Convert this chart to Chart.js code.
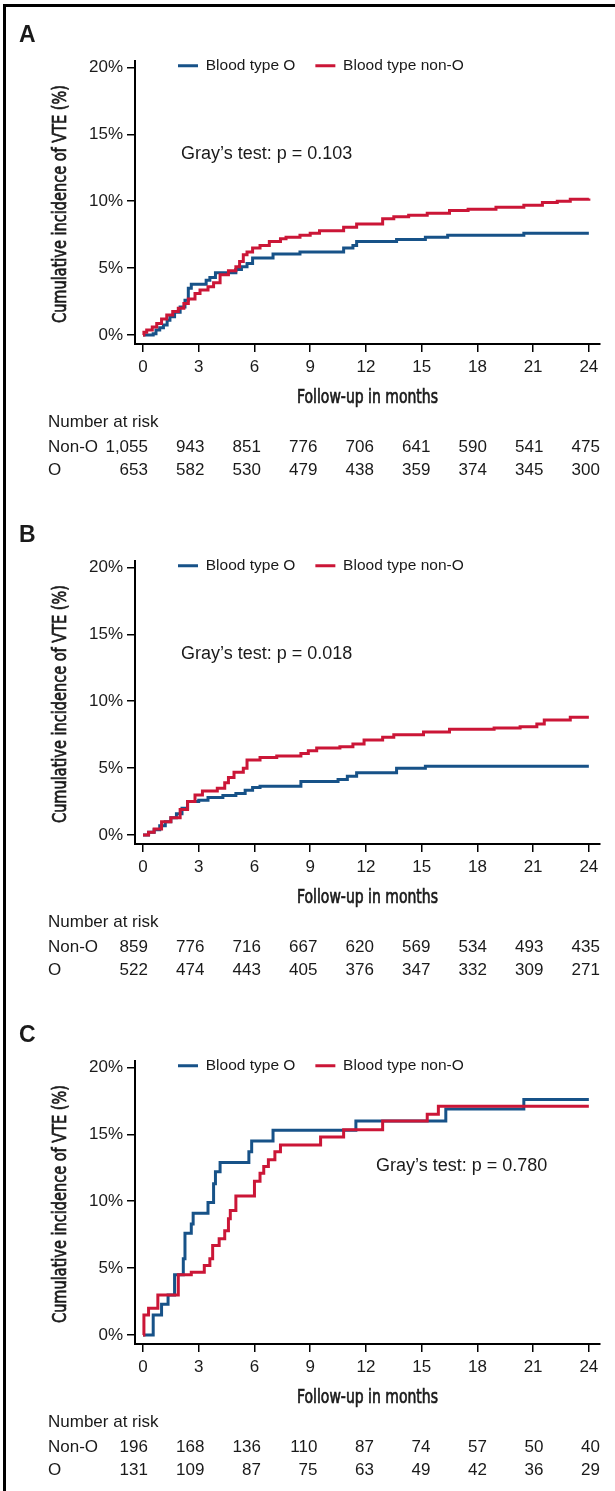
<!DOCTYPE html>
<html><head><meta charset="utf-8">
<script src="https://cdn.jsdelivr.net/npm/chart.js@4.4.1/dist/chart.umd.min.js"></script>
<style>
html,body{margin:0;padding:0;background:#fff;overflow:hidden;width:615px;height:1491px;}
#frame{position:absolute;left:3px;top:4px;width:700px;height:1600px;border:3px solid #000;box-sizing:border-box;}
.panel{position:absolute;left:0;width:615px;}
canvas{display:block;}
</style></head><body>
<div id="frame"></div>
<div class="panel" style="top:0px;height:500px"><canvas id="cA" width="615" height="500"></canvas></div>
<div class="panel" style="top:500px;height:500px"><canvas id="cB" width="615" height="500"></canvas></div>
<div class="panel" style="top:1000px;height:491px"><canvas id="cC" width="615" height="491"></canvas></div>
<script>
// ---- data ----
const monthTicks = [0, 3, 6, 9, 12, 15, 18, 21, 24];
const pctTicks = [0, 5, 10, 15, 20];
const seriesLabels = ['Blood type O', 'Blood type non-O'];
const riskRowLabels = ['Non-O', 'O'];

// Panel A
const aOTime = [0, 0.55, 0.7, 0.9, 1.1, 1.3, 1.45, 1.7, 2.0, 2.26, 2.44, 2.6, 3.4, 3.6, 3.9, 5.0, 5.3, 5.6, 5.9, 7.0, 8.45, 10.8, 11.3, 11.5, 13.65, 15.2, 16.4, 20.5, 24];
const aOPct  = [0, 0.1, 0.37, 0.55, 0.75, 1.1, 1.37, 1.7, 2.1, 2.6, 3.5, 3.8, 4.1, 4.3, 4.65, 4.9, 5.1, 5.35, 5.75, 6.05, 6.2, 6.5, 6.7, 7.0, 7.15, 7.3, 7.45, 7.6, 7.6];
const aNTime = [0, 0.05, 0.2, 0.5, 0.74, 1.0, 1.28, 1.6, 1.9, 2.2, 2.44, 2.8, 3.07, 3.5, 3.8, 4.15, 4.6, 5.0, 5.2, 5.4, 5.6, 5.9, 6.3, 6.8, 7.4, 7.7, 8.45, 9.0, 9.5, 10.8, 11.5, 12.9, 13.5, 14.3, 15.3, 16.5, 17.5, 19.0, 20.5, 21.5, 22.3, 23.0, 24];
const aNPct  = [0, 0.2, 0.37, 0.6, 0.87, 1.2, 1.5, 1.75, 2.0, 2.35, 2.7, 3.1, 3.36, 3.6, 3.9, 4.5, 4.8, 5.1, 5.5, 6.0, 6.2, 6.5, 6.7, 7.0, 7.2, 7.3, 7.45, 7.6, 7.8, 8.05, 8.3, 8.7, 8.85, 8.95, 9.1, 9.3, 9.4, 9.55, 9.7, 9.9, 10.0, 10.15, 10.2];
const aRiskNonO = [1055, 943, 851, 776, 706, 641, 590, 541, 475];
const aRiskO    = [653, 582, 530, 479, 438, 359, 374, 345, 300];
const aGray = 'Gray\u2019s test: p = 0.103';

// Panel B
const bOTime = [0, 0.3, 0.6, 0.9, 1.2, 1.5, 1.8, 2.1, 2.4, 3.0, 3.5, 4.3, 5.0, 5.5, 5.9, 6.3, 8.5, 10.5, 11.0, 11.5, 13.65, 15.2, 24];
const bOPct  = [0, 0.2, 0.4, 0.7, 1.0, 1.3, 1.6, 2.0, 2.5, 2.6, 2.8, 2.95, 3.1, 3.35, 3.55, 3.65, 4.0, 4.15, 4.4, 4.65, 5.0, 5.15, 5.15];
const bNTime = [0, 0.3, 0.6, 1.0, 1.5, 2.0, 2.4, 2.8, 3.2, 4.0, 4.4, 4.6, 4.9, 5.4, 5.6, 6.3, 7.2, 8.5, 8.9, 9.35, 10.6, 11.3, 11.9, 12.9, 13.5, 15.1, 16.5, 18.9, 20.3, 21.2, 21.6, 23.0, 24];
const bNPct  = [0, 0.2, 0.45, 1.0, 1.3, 1.9, 2.5, 3.0, 3.3, 3.5, 3.9, 4.3, 4.7, 5.0, 5.6, 5.8, 5.9, 6.1, 6.3, 6.5, 6.6, 6.8, 7.1, 7.3, 7.5, 7.7, 7.9, 8.0, 8.1, 8.3, 8.6, 8.8, 8.8];
const bRiskNonO = [859, 776, 716, 667, 620, 569, 534, 493, 435];
const bRiskO    = [522, 474, 443, 405, 376, 347, 332, 309, 271];
const bGray = 'Gray\u2019s test: p = 0.018';

// Panel C
const cOTime = [0, 0.55, 1.0, 1.35, 1.7, 2.17, 2.26, 2.6, 2.7, 3.5, 3.8, 3.9, 4.15, 5.7, 5.85, 7.0, 11.46, 16.3, 20.5, 24];
const cOPct  = [0, 1.5, 2.3, 3.0, 4.5, 5.7, 7.6, 8.3, 9.1, 9.9, 11.3, 12.2, 12.9, 13.7, 14.5, 15.3, 16.0, 16.9, 17.6, 17.6];
const cNTime = [0, 0.05, 0.3, 0.8, 1.9, 2.6, 3.3, 3.6, 3.75, 4.1, 4.4, 4.6, 4.7, 5.0, 6.0, 6.3, 6.5, 6.75, 7.1, 7.4, 9.56, 10.8, 12.9, 15.3, 15.9, 24];
const cNPct  = [0, 1.5, 2.0, 3.0, 4.5, 4.7, 5.2, 5.7, 6.7, 7.2, 7.8, 8.7, 9.3, 10.4, 11.5, 12.1, 12.6, 13.1, 13.7, 14.2, 14.8, 15.35, 16.0, 16.5, 17.1, 17.1];
const cRiskNonO = [196, 168, 136, 110, 87, 74, 57, 50, 40];
const cRiskO    = [131, 109, 87, 75, 63, 49, 42, 36, 29];
const cGray = 'Gray\u2019s test: p = 0.780';

// ---- styling ----
const BLUE = '#175288';
const RED = '#cb1637';
const TXT = '#1a1a1a';
const FONT = '"Liberation Sans", Arial, Helvetica, sans-serif';
const NARROW = '"Liberation Sans Narrow", "DejaVu Sans Condensed", "Liberation Sans", sans-serif';

function condensed(ctx, text, cx, cy, targetW, rotate) {
  ctx.save();
  ctx.translate(cx, cy);
  if (rotate) ctx.rotate(-Math.PI / 2);
  const w = ctx.measureText(text).width;
  ctx.scale(targetW / w, 1);
  ctx.textAlign = 'center';
  ctx.textBaseline = 'middle';
  ctx.lineWidth = 0.7;
  ctx.strokeStyle = TXT;
  ctx.fillText(text, 0, 0);
  ctx.strokeText(text, 0, 0);
  ctx.restore();
}

const textPlugin = {
  id: 'panelText',
  afterDraw(chart, args, o) {
    const ctx = chart.ctx;
    const xs = chart.scales.x;
    ctx.save();
    ctx.fillStyle = TXT;
    ctx.textBaseline = 'middle';
    ctx.textAlign = 'left';
    ctx.font = 'bold 23px ' + FONT;
    ctx.fillText(o.letter, 19, 36);
    ctx.font = '18px ' + FONT;
    ctx.fillText(o.gray, o.grayX, o.grayY);
    // axis titles
    ctx.font = '20px ' + NARROW;
    condensed(ctx, 'Cumulative incidence of VTE (%)', 61, 204, 238, true);
    condensed(ctx, 'Follow-up in months', (chart.chartArea.left + chart.chartArea.right) / 2, 398, 141, false);
    // risk table
    ctx.font = '17px ' + FONT;
    ctx.textAlign = 'left';
    ctx.fillText('Number at risk', 48, 422);
    ctx.fillText(riskRowLabels[0], 48, 447);
    ctx.fillText(riskRowLabels[1], 48, 470);
    ctx.textAlign = 'right';
    monthTicks.forEach((m, i) => {
      const px = xs.getPixelForValue(m) + 5 + m * 0.25;
      ctx.fillText(o.riskNon[i].toLocaleString('en-US'), px, 447);
      ctx.fillText(o.riskO[i].toLocaleString('en-US'), px, 470);
    });
    ctx.restore();
  }
};

const legendPos = {
  id: 'legendPos',
  afterLayout(chart) {
    const lg = chart.legend;
    if (!lg) return;
    const h = lg.height;
    lg.left = 158; lg.right = 615;
    lg.top = 38; lg.bottom = 38 + h;
  }
};

function toPoints(t, p) { return t.map((v, i) => ({ x: v, y: p[i] })); }

function makePanel(id, cfg) {
  new Chart(document.getElementById(id), {
    type: 'line',
    data: {
      datasets: [
        { label: seriesLabels[0], data: toPoints(cfg.oT, cfg.oP), borderColor: BLUE, backgroundColor: BLUE,
          borderWidth: 3, stepped: 'before', pointRadius: 0, fill: false, order: 1, borderJoinStyle: 'miter', borderCapStyle: 'butt' },
        { label: seriesLabels[1], data: toPoints(cfg.nT, cfg.nP), borderColor: RED, backgroundColor: RED,
          borderWidth: 3, stepped: 'before', pointRadius: 0, fill: false, order: 0, borderJoinStyle: 'miter', borderCapStyle: 'butt' }
      ]
    },
    options: {
      responsive: false, animation: false, devicePixelRatio: 1,
      layout: { padding: { left: 40, right: 15, top: 15, bottom: cfg.h - 344 - 30 } },
      scales: {
        x: {
          type: 'linear', min: -0.43, max: 24.6,
          afterFit: s => { s.height = 30; },
          afterBuildTicks: s => { s.ticks = monthTicks.map(v => ({ value: v })); },
          grid: { drawOnChartArea: false, drawTicks: true, tickLength: 8, color: '#000', tickColor: '#000', lineWidth: 1.5 },
          border: { display: true, color: '#000', width: 2 },
          ticks: { font: { family: FONT, size: 17 }, color: TXT, padding: 5, maxRotation: 0, autoSkip: false, callback: v => v }
        },
        y: {
          type: 'linear', min: -0.67, max: 20.52,
          afterFit: s => { s.width = 95; },
          afterBuildTicks: s => { s.ticks = pctTicks.map(v => ({ value: v })); },
          grid: { drawOnChartArea: false, drawTicks: true, tickLength: 8, color: '#000', tickColor: '#000', lineWidth: 1.5 },
          border: { display: true, color: '#000', width: 2 },
          ticks: { font: { family: FONT, size: 17 }, color: TXT, padding: 4, autoSkip: false, callback: v => v + '%' }
        }
      },
      plugins: {
        legend: {
          position: 'top', align: 'start',
          labels: { usePointStyle: true, pointStyle: 'line', pointStyleWidth: 20, boxWidth: 20, padding: 20,
                    font: { family: FONT, size: 15.5 }, color: TXT,
                    sort: (a, b) => a.datasetIndex - b.datasetIndex }
        },
        tooltip: { enabled: false },
        panelText: cfg.text
      }
    },
    plugins: [legendPos, textPlugin]
  });
}

makePanel('cA', { h: 500, oT: aOTime, oP: aOPct, nT: aNTime, nP: aNPct,
  text: { letter: 'A', gray: aGray, grayX: 181, grayY: 154, riskNon: aRiskNonO, riskO: aRiskO } });
makePanel('cB', { h: 500, oT: bOTime, oP: bOPct, nT: bNTime, nP: bNPct,
  text: { letter: 'B', gray: bGray, grayX: 181, grayY: 154, riskNon: bRiskNonO, riskO: bRiskO } });
makePanel('cC', { h: 491, oT: cOTime, oP: cOPct, nT: cNTime, nP: cNPct,
  text: { letter: 'C', gray: cGray, grayX: 376, grayY: 166, riskNon: cRiskNonO, riskO: cRiskO } });
</script>
</body></html>
